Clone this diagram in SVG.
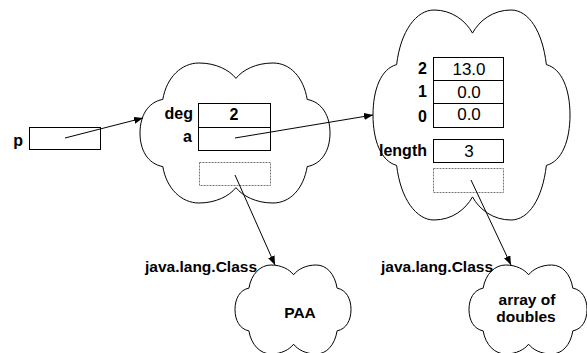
<svg xmlns="http://www.w3.org/2000/svg" width="587" height="353" viewBox="0 0 587 353">
<style>
text{font-family:"Liberation Sans",Arial,sans-serif;fill:#000}
.b{font-weight:bold;font-size:16px}
.l{font-weight:bold;font-size:15.5px}
.v{font-size:17px}
.e{text-anchor:end}
.m{text-anchor:middle}
.cloud{fill:#fff;stroke:#000;stroke-width:1;vector-effect:non-scaling-stroke}
.box{fill:none;stroke:#000;stroke-width:1}
.dash{fill:none;stroke:#777;stroke-width:1;stroke-dasharray:2 1}
.conn{stroke:#000;stroke-width:1;fill:none;marker-end:url(#ah)}
</style>
<defs>
<marker id="ah" markerWidth="9" markerHeight="7" refX="9" refY="3.5" orient="auto" markerUnits="userSpaceOnUse">
<path d="M0,0 L9,3.5 L0,7 Z" fill="#000"/>
</marker>
</defs>
<g id="pvar">
<text class="b e" x="23" y="146">p</text>
<rect class="box" x="29.5" y="127.5" width="71" height="22"/>
</g>
<g id="paaObj">
<path class="cloud" transform="translate(140,63) scale(1.9,1.4)" d="M12,26 C14,10 22,0 31,0 C40,0 47,5 50.5,11 C54,5 61,0 70,0 C79,0 86,10 88,26 C96,28 100,38 100,50 C100,62 96,72 88,74 C86,90 79,100 70,100 C61,100 54,95 50.5,89 C47,95 40,100 31,100 C22,100 14,90 12,74 C4,72 0,62 0,50 C0,38 4,28 12,26 Z"/>
<rect class="box" x="198.5" y="103.5" width="72" height="24"/>
<rect class="box" x="198.5" y="127.5" width="72" height="23"/>
<rect class="dash" x="199.5" y="162.5" width="71" height="23"/>
<text class="b e" x="193" y="119">deg</text>
<text class="b e" x="192" y="142">a</text>
<text class="b m" x="234" y="120">2</text>
</g>
<g id="arrObj">
<path class="cloud" transform="translate(373,10) scale(1.97,2.1)" d="M12,26 C14,10 22,0 31,0 C40,0 47,5 50.5,11 C54,5 61,0 70,0 C79,0 86,10 88,26 C96,28 100,38 100,50 C100,62 96,72 88,74 C86,90 79,100 70,100 C61,100 54,95 50.5,89 C47,95 40,100 31,100 C22,100 14,90 12,74 C4,72 0,62 0,50 C0,38 4,28 12,26 Z"/>
<rect class="box" x="433.5" y="57.5" width="70" height="23"/>
<rect class="box" x="433.5" y="80.5" width="70" height="23"/>
<rect class="box" x="433.5" y="103.5" width="70" height="24"/>
<rect class="box" x="433.5" y="139.5" width="70" height="23"/>
<rect class="dash" x="433.5" y="168.5" width="70" height="24"/>
<text class="b e" x="427" y="74">2</text>
<text class="b e" x="427" y="97">1</text>
<text class="b e" x="427" y="122">0</text>
<text class="b e" x="427" y="156">length</text>
<text class="v m" x="469" y="75">13.0</text>
<text class="v m" x="469" y="98">0.0</text>
<text class="v m" x="469" y="120">0.0</text>
<text class="v m" x="469" y="157">3</text>
</g>
<g id="paaClass">
<path class="cloud" transform="translate(235,265) scale(1.16,0.89)" d="M12,26 C14,10 22,0 31,0 C40,0 47,5 50.5,11 C54,5 61,0 70,0 C79,0 86,10 88,26 C96,28 100,38 100,50 C100,62 96,72 88,74 C86,90 79,100 70,100 C61,100 54,95 50.5,89 C47,95 40,100 31,100 C22,100 14,90 12,74 C4,72 0,62 0,50 C0,38 4,28 12,26 Z"/>
<text class="l m" x="300" y="318">PAA</text>
<text class="l" x="145" y="272">java.lang.Class</text>
</g>
<g id="dblClass">
<path class="cloud" transform="translate(469,265) scale(1.18,0.89)" d="M12,26 C14,10 22,0 31,0 C40,0 47,5 50.5,11 C54,5 61,0 70,0 C79,0 86,10 88,26 C96,28 100,38 100,50 C100,62 96,72 88,74 C86,90 79,100 70,100 C61,100 54,95 50.5,89 C47,95 40,100 31,100 C22,100 14,90 12,74 C4,72 0,62 0,50 C0,38 4,28 12,26 Z"/>
<text class="l m" x="527" y="305">array of</text>
<text class="l m" x="526" y="322">doubles</text>
<text class="l" x="381" y="272">java.lang.Class</text>
</g>
<g id="connectors">
<line class="conn" x1="65" y1="138" x2="143" y2="118"/>
<line class="conn" x1="235" y1="138" x2="373" y2="115"/>
<line class="conn" x1="235" y1="175" x2="275" y2="265"/>
<line class="conn" x1="471" y1="180" x2="511" y2="265"/>
</g>
</svg>
